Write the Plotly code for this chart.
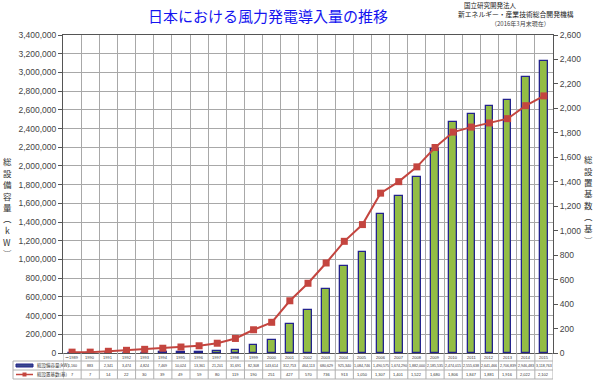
import plotly.graph_objects as go

years = ["〜1989", "1990", "1991", "1992", "1993", "1994", "1995", "1996", "1997", "1998",
         "1999", "2000", "2001", "2002", "2003", "2004", "2005", "2006", "2007", "2008",
         "2009", "2010", "2011", "2012", "2013", "2014", "2015"]
capacity_kw = [1160, 883, 2341, 3474, 4824, 7469, 10024, 13361, 21201, 31691,
               82308, 143614, 312753, 464113, 680629, 925340, 1084746, 1490575, 1674290, 1882000,
               2185535, 2474015, 2555638, 2641466, 2706839, 2946483, 3118763]
units = [7, 7, 14, 22, 30, 39, 49, 59, 80, 119,
         190, 251, 427, 570, 736, 913, 1050, 1307, 1401, 1522,
         1680, 1806, 1847, 1881, 1916, 2022, 2102]
left_ticks = list(range(0, 3400001, 200000))
right_ticks = list(range(0, 2601, 200))

W, H = 595, 380
L, R, T, B = 63, 553, 35, 353
PW, PH = R - L, B - T

def py(p):  # pixel y -> paper
    return (B - p) / PH

def px(p):  # pixel x -> paper
    return (p - L) / PW

xs = list(range(len(years)))
JP = "Noto Sans CJK JP"
NUM = "Liberation Sans, Arial, sans-serif"

fig = go.Figure()
fig.add_trace(go.Bar(
    x=xs, y=capacity_kw, width=0.42, name="総設備容量(kW)",
    marker=dict(color="#93bd45", line=dict(color="#23238c", width=1.3)),
    yaxis="y"))
fig.add_trace(go.Scatter(
    x=xs, y=units, mode="lines+markers", name="総設置基数(基)",
    line=dict(color="#c4453f", width=2),
    marker=dict(symbol="square", size=7, color="#c4453f"),
    yaxis="y2"))

fig.update_layout(
    width=W, height=H, margin=dict(l=L, r=W - R, t=T, b=H - B),
    paper_bgcolor="white", plot_bgcolor="white", showlegend=False,
    bargap=0,
    xaxis=dict(type="linear", range=[-0.5, len(years) - 0.5], tick0=0.5, dtick=1,
               showticklabels=False, ticks="", showgrid=True, gridcolor="#a8a8a8", gridwidth=1,
               zeroline=False, showline=True, linecolor="#555", linewidth=1, mirror=True),
    yaxis=dict(range=[0, 3400000], tickvals=left_ticks,
               ticktext=[f"{v:,}" for v in left_ticks],
               ticks="outside", ticklen=4, tickcolor="#555",
               tickfont=dict(family=NUM, size=8.5, color="#444"),
               showgrid=True, gridcolor="#a8a8a8", gridwidth=1, zeroline=False,
               showline=True, linecolor="#555", linewidth=1),
    yaxis2=dict(range=[0, 2600], tickvals=right_ticks,
                ticktext=[f"{v:,}" for v in right_ticks],
                overlaying="y", side="right",
                ticks="outside", ticklen=4, tickcolor="#555",
                tickfont=dict(family=NUM, size=8.5, color="#444"),
                showgrid=False, zeroline=False,
                showline=True, linecolor="#555", linewidth=1),
)

ann = []
# Title
ann.append(dict(text="日本における風力発電導入量の推移", xref="paper", yref="paper",
                x=px(268), y=py(16), xanchor="center", yanchor="middle", showarrow=False,
                font=dict(family=JP, size=15, color="#1414f0")))
# Top-right source
ann.append(dict(text="国立研究開発法人", xref="paper", yref="paper", x=px(462), y=py(5),
                xanchor="left", yanchor="middle", showarrow=False,
                font=dict(family=JP, size=6.5, color="#222")))
ann.append(dict(text="新エネルギー・産業技術総合開発機構", xref="paper", yref="paper", x=px(456), y=py(14),
                xanchor="left", yanchor="middle", showarrow=False,
                font=dict(family=JP, size=6.8, color="#222")))
ann.append(dict(text="（2016年3月末現在）", xref="paper", yref="paper", x=px(552), y=py(23),
                xanchor="right", yanchor="middle", showarrow=False,
                font=dict(family=JP, size=6, color="#444")))
# Vertical axis titles, one character per line
left_title = "総設備容量︵kW︶"
for k, ch in enumerate(left_title):
    ann.append(dict(text=ch, xref="paper", yref="paper",
                    x=px(7), y=py(161 + 11.5 * k), xanchor="center", yanchor="middle",
                    showarrow=False, font=dict(family=JP, size=8.5, color="#333")))
right_title = "総設置基数︵基︶"
for k, ch in enumerate(right_title):
    ann.append(dict(text=ch, xref="paper", yref="paper",
                    x=px(588.5), y=py(159 + 11.5 * k), xanchor="center", yanchor="middle",
                    showarrow=False, font=dict(family=JP, size=8.5, color="#333")))

# Data table
row_year, row_cap, row_cnt = 357.5, 365.5, 374.5
tfont = dict(family=NUM, size=4, color="#333")
cfont = dict(family=NUM, size=3.6, color="#333")
for i, yr in enumerate(years):
    ann.append(dict(text=yr, xref="x", yref="paper", x=i, y=py(row_year),
                    xanchor="center", yanchor="middle", showarrow=False, font=tfont))
    ann.append(dict(text=f"{capacity_kw[i]:,}", xref="x", yref="paper", x=i, y=py(row_cap),
                    xanchor="center", yanchor="middle", showarrow=False, font=cfont))
    ann.append(dict(text=f"{units[i]:,}", xref="x", yref="paper", x=i, y=py(row_cnt),
                    xanchor="center", yanchor="middle", showarrow=False, font=tfont))
ann.append(dict(text="総設備容量(kW)", xref="paper", yref="paper", x=px(35), y=py(row_cap),
                xanchor="left", yanchor="middle", showarrow=False,
                font=dict(family=JP, size=4.5, color="#333")))
ann.append(dict(text="総設置基数(基)", xref="paper", yref="paper", x=px(35), y=py(row_cnt),
                xanchor="left", yanchor="middle", showarrow=False,
                font=dict(family=JP, size=4.5, color="#333")))

shapes = []
gc = "#b0b0b0"
for yy, x0 in [(361, 13), (370, 13), (379, 13)]:
    shapes.append(dict(type="line", xref="paper", yref="paper", x0=px(x0), x1=1,
                       y0=py(yy), y1=py(yy), line=dict(color=gc, width=1)))
for i in range(len(years) + 1):
    shapes.append(dict(type="line", xref="x", yref="paper", x0=i - 0.5, x1=i - 0.5,
                       y0=0, y1=py(379), line=dict(color=gc, width=1)))
shapes.append(dict(type="line", xref="paper", yref="paper", x0=px(13), x1=px(13),
                   y0=py(361), y1=py(379), line=dict(color=gc, width=1)))
shapes.append(dict(type="rect", xref="paper", yref="paper", x0=px(16), x1=px(33),
                   y0=py(367), y1=py(364), fillcolor="#3a4a8c", line=dict(color="#23238c", width=1)))
shapes.append(dict(type="line", xref="paper", yref="paper", x0=px(16), x1=px(33),
                   y0=py(row_cnt), y1=py(row_cnt), line=dict(color="#c4453f", width=1.5)))
shapes.append(dict(type="rect", xref="paper", yref="paper", x0=px(22.5), x1=px(26.5),
                   y0=py(row_cnt + 2), y1=py(row_cnt - 2), fillcolor="#c4453f",
                   line=dict(color="#c4453f", width=0)))

fig.update_layout(annotations=ann, shapes=shapes)
fig.write_html("out.html", config={"displayModeBar": False},
               post_script="document.body.style.margin='0';document.body.style.overflow='hidden';")
